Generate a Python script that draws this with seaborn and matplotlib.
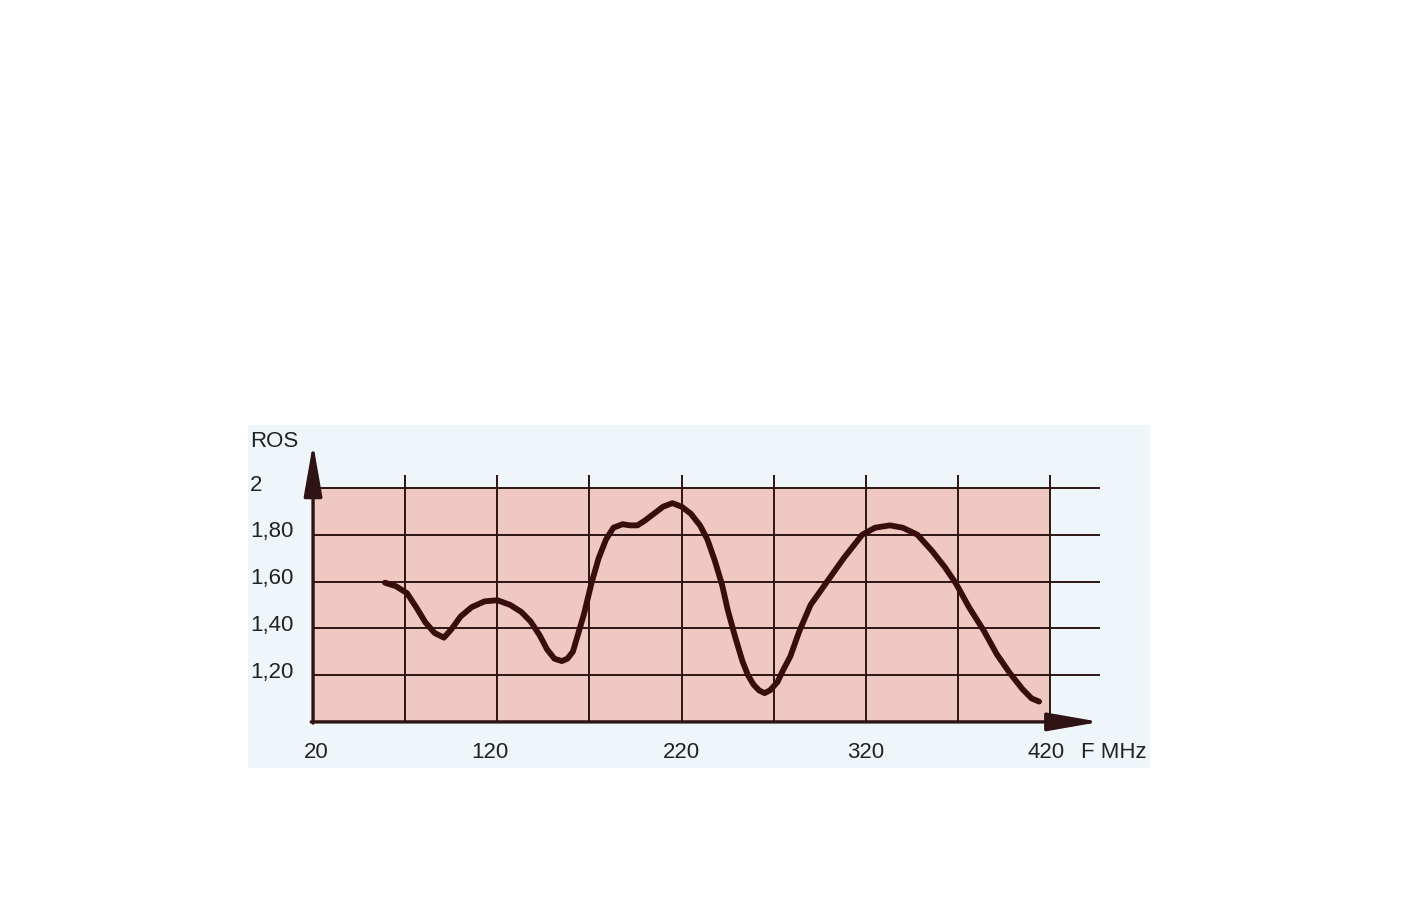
import matplotlib
matplotlib.use("Agg")
import matplotlib.pyplot as plt
import seaborn as sns
from matplotlib.patches import Rectangle

# ROS vs frequency
freq_mhz = [59, 65, 71, 76, 81, 86, 91, 95, 100, 106, 113, 120, 127, 133, 138,
            143, 147, 151, 155, 158, 161, 164, 167, 171, 175, 179, 183, 188,
            192, 196, 200, 205, 210, 215, 220, 225, 230, 234, 238, 242, 245,
            249, 253, 256, 259, 262, 265, 268, 272, 275, 279, 284, 290, 299,
            308, 318, 325, 333, 340, 348, 356, 363, 369, 376, 384, 391, 398,
            405, 410, 414]
ros = [1.595, 1.58, 1.55, 1.49, 1.425, 1.38, 1.36, 1.395, 1.45, 1.49, 1.515,
       1.52, 1.50, 1.47, 1.43, 1.37, 1.31, 1.27, 1.26, 1.27, 1.30, 1.38, 1.46,
       1.59, 1.70, 1.78, 1.83, 1.845, 1.84, 1.84, 1.86, 1.89, 1.92, 1.935,
       1.92, 1.89, 1.84, 1.78, 1.69, 1.585, 1.48, 1.365, 1.26, 1.20, 1.16,
       1.135, 1.123, 1.135, 1.17, 1.22, 1.28, 1.39, 1.50, 1.60, 1.70, 1.80,
       1.83, 1.84, 1.83, 1.80, 1.73, 1.66, 1.59, 1.49, 1.39, 1.29, 1.21, 1.14,
       1.10, 1.087]

x_ticks = [22, 116, 220, 320, 418]
x_tick_labels = ["20", "120", "220", "320", "420"]
x_grid = [70, 120, 170, 220, 270, 320, 370, 420]
y_ticks = [1.2, 1.4, 1.6, 1.8, 2.0]
y_tick_labels = ["1,20", "1,40", "1,60", "1,80", "2"]

x0, x1 = 20, 420
y0, y1 = 1.0, 2.0

panel_blue = "#eef6fa"
pink = "#efc9c1"
ink = "#2e1414"
curve_col = "#3a0d0d"

sns.set_theme(style="white")
plt.rcParams["font.family"] = ["Liberation Sans", "DejaVu Sans"]

fig = plt.figure(figsize=(14.11, 9.10), dpi=100)
fig.patch.set_facecolor("white")
ax = fig.add_axes([248 / 1411, (910 - 768) / 910, 902 / 1411, 343 / 910])
ax.set_facecolor(panel_blue)
for s in ax.spines.values():
    s.set_visible(False)
ax.set_xticks([])
ax.set_yticks([])
ax.set_xlim(-15.3, 474.2)
ax.set_ylim(0.803, 2.269)

# pink plotting field
ax.add_patch(Rectangle((x0, y0), x1 - x0, y1 - y0, facecolor=pink,
                       edgecolor="none", zorder=1))

# grid
ax.hlines(y_ticks, x0, 447, color=ink, lw=1.4, zorder=2)
ax.vlines(x_grid, y0, 2.056, color=ink, lw=1.4, zorder=2)

# axes with arrows
ax.annotate("", xy=(20, 2.19), xytext=(20, 0.995),
            arrowprops=dict(arrowstyle="-|>,head_length=1.6,head_width=0.28",
                            lw=2.4, color=ink, mutation_scale=20,
                            shrinkA=0, shrinkB=0), zorder=3)
ax.annotate("", xy=(447, 1.0), xytext=(19, 1.0),
            arrowprops=dict(arrowstyle="-|>,head_length=1.6,head_width=0.28",
                            lw=2.4, color=ink, mutation_scale=20,
                            shrinkA=0, shrinkB=0), zorder=3)

sns.lineplot(x=freq_mhz, y=ros, ax=ax, color=curve_col, linewidth=4.2,
             zorder=4)
ax.lines[-1].set_solid_capstyle("round")
ax.lines[-1].set_solid_joinstyle("round")
ax.set_xlabel("")
ax.set_ylabel("")

# labels
for v, lab in zip(x_ticks, x_tick_labels):
    ax.text(v, 0.87, lab, ha="center", va="center", fontsize=16, color="#222222")
for v, lab in zip(y_ticks, y_tick_labels):
    ax.text(-14.2, v + 0.012, lab, ha="left", va="center", fontsize=16,
            color="#222222")
ax.text(-14.2, 2.2, "ROS", ha="left", va="center", fontsize=16, color="#222222")
ax.text(437, 0.87, "F MHz", ha="left", va="center", fontsize=16, color="#222222")

fig.savefig("out.png", dpi=100)
